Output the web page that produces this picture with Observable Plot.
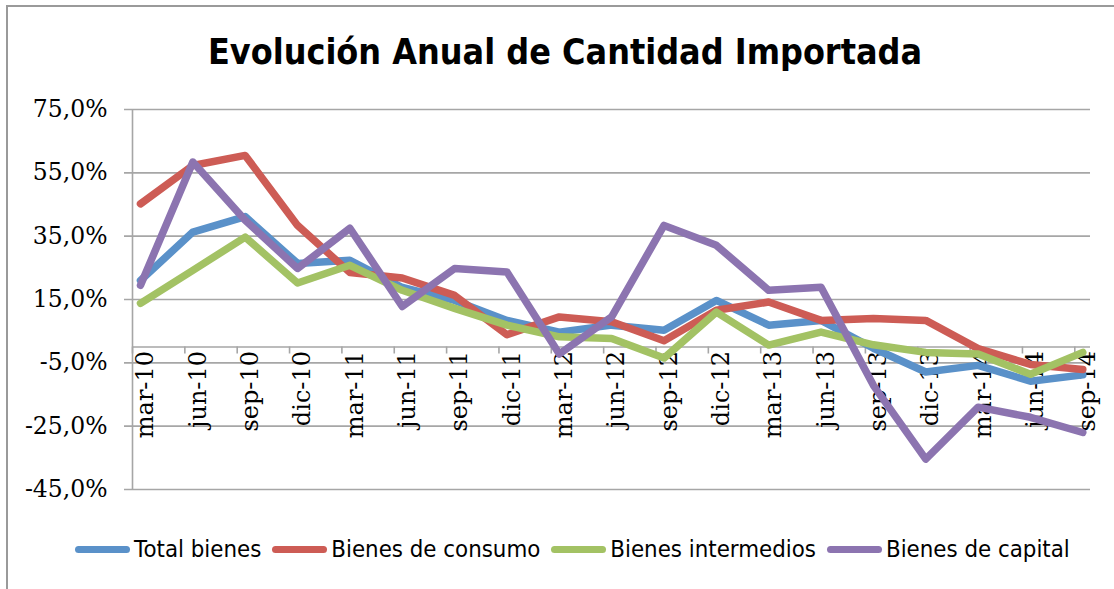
<!DOCTYPE html>
<html>
<head>
<meta charset="utf-8">
<script src="https://cdn.jsdelivr.net/npm/d3@7"></script>
<script src="https://cdn.jsdelivr.net/npm/@observablehq/plot@0.6"></script>
<style>
  html, body { margin: 0; padding: 0; background: #fff; }
  #chart { position: relative; width: 1114px; height: 589px; overflow: hidden; background: #fff; }
  #frame { position: absolute; left: 6px; top: 5px; width: 1200px; height: 700px;
           border-left: 2px solid #9a9a9a; border-top: 2px solid #9a9a9a; }
  #title { position: absolute; left: 8px; top: 37px; width: 1114px; text-align: center;
           font-family: "DejaVu Sans", Verdana, sans-serif; font-weight: bold; font-size: 32px;
           line-height: 32px; color: #000; white-space: nowrap; transform: scaleY(1.12); transform-origin: 50% 80%; }
  #plot { position: absolute; left: 0; top: 0; }
  #legend { position: absolute; left: 75px; top: 537px; height: 24px; display: flex; align-items: center;
            font-family: "DejaVu Sans", Verdana, sans-serif; font-size: 21.4px; line-height: 24px; color: #000; white-space: nowrap; }
  .item { display: flex; align-items: center; margin-right: 11px; }
  .sw { display: inline-block; width: 55px; height: 7px; border-radius: 4px; margin-right: 4px; }
  .lt { display: inline-block; transform: scaleY(1.1); }
</style>
</head>
<body>
<div id="chart">
  <div id="frame"></div>
  <div id="title">Evolución Anual de Cantidad Importada</div>
  <div id="plot"></div>
  <div id="legend"></div>
</div>
<script>
// ---- data ----
const labels = ["mar-10","jun-10","sep-10","dic-10","mar-11","jun-11","sep-11","dic-11","mar-12","jun-12",
                "sep-12","dic-12","mar-13","jun-13","sep-13","dic-13","mar-14","jun-14","sep-14"];
const totalBienes       = [21.0, 36.3, 41.2, 26.4, 27.4, 18.8, 14.7,  8.4,  4.7,  6.9,  5.3, 14.7,  6.9,  8.4, -0.4,  -7.9,  -5.8, -10.8,  -8.8];
const bienesConsumo     = [45.2, 57.3, 60.5, 38.4, 23.5, 21.8, 16.3,  3.9,  9.5,  8.0,  2.0, 11.6, 14.2,  8.4,  9.0,   8.4,  -0.5,  -5.5,  -7.1];
const bienesIntermedios = [13.8, 24.2, 34.7, 20.2, 25.8, 17.9, 12.2,  6.9,  3.2,  2.7, -3.5, 11.0,  0.6,  4.7,  0.7,  -1.7,  -2.2,  -8.6,  -1.7];
const bienesCapital     = [19.5, 58.4, 40.0, 24.8, 37.5, 12.8, 24.8, 23.7, -2.2,  9.5, 38.4, 32.1, 17.9, 18.9, -12.1, -35.4, -19.0, -22.2, -27.0];
const seriesNames  = ["Total bienes", "Bienes de consumo", "Bienes intermedios", "Bienes de capital"];
const seriesColors = ["#5a91c9", "#cd5c55", "#a3c264", "#8c74b0"];
const yTicks = [-45, -25, -5, 15, 35, 55, 75];

const seriesValues = [totalBienes, bienesConsumo, bienesIntermedios, bienesCapital];
const rows = seriesNames.flatMap((s, si) => seriesValues[si].map((v, i) => ({series: s, i, value: v})));

// ---- geometry ----
const W = 1114, H = 589;
const mL = 132, mR = 24, mT = 109, mB = 100;
const step = 52.35;                 // px per category
const xMin = -8 / step;             // first point sits 8px right of the axis
const xMax = xMin + (W - mL - mR) / step;
const yPerPx = 120 / (H - mT - mB);
const tickLen = 7 * yPerPx;
const tickPos = d3.range(0, 19).map(k => k + xMin);
const fmt = d => d.toFixed(1).replace(".", ",") + "%";
const grid = "#a6a6a6";
const serif = "'DejaVu Serif', 'Liberation Serif', serif";

const plot = Plot.plot({
  width: W, height: H,
  marginLeft: mL, marginRight: mR, marginTop: mT, marginBottom: mB,
  style: {background: "transparent", overflow: "visible"},
  x: {type: "linear", domain: [xMin, xMax], axis: null},
  y: {domain: [-45, 75], axis: null},
  color: {domain: seriesNames, range: seriesColors},
  marks: [
    Plot.ruleY(yTicks, {stroke: grid, strokeWidth: 1.6, insetLeft: -8}),
    Plot.ruleX([xMin], {y1: -45, y2: 75, stroke: grid, strokeWidth: 1.6}),
    Plot.ruleY([0], {stroke: grid, strokeWidth: 1.6}),
    Plot.ruleX(tickPos, {y1: 0, y2: -tickLen, stroke: grid, strokeWidth: 1.6}),
    Plot.text(yTicks, {x: xMin, y: d => d, text: fmt, textAnchor: "end", dx: -25,
      fontFamily: serif, fontSize: 23.5, fill: "#000"}),
    Plot.text(labels, {x: (d, i) => i, y: 0, text: d => d, rotate: -90, textAnchor: "end",
      dx: 5, dy: 4, fontFamily: serif, fontSize: 24, fill: "#000"}),
    Plot.line(rows, {x: "i", y: "value", z: "series", stroke: "series", strokeWidth: 7.5,
      strokeLinecap: "round", strokeLinejoin: "round"})
  ]
});
document.getElementById("plot").appendChild(plot);

// ---- legend ----
const legend = document.getElementById("legend");
seriesNames.forEach((s, i) => {
  const it = document.createElement("div");
  it.className = "item";
  const sw = document.createElement("span");
  sw.className = "sw";
  sw.style.background = seriesColors[i];
  const tx = document.createElement("span");
  tx.className = "lt";
  tx.textContent = s;
  it.appendChild(sw); it.appendChild(tx);
  legend.appendChild(it);
});
</script>
</body>
</html>
